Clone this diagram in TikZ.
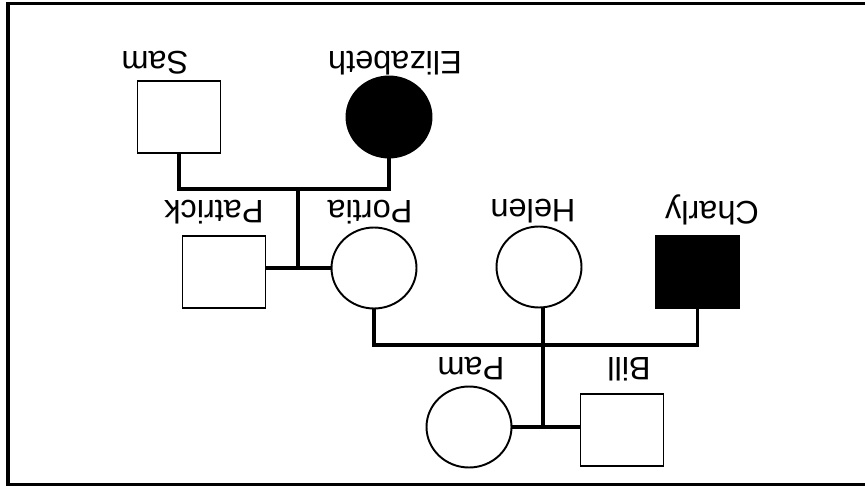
\documentclass[tikz,border=0pt]{standalone}
\usepackage{fontspec}
\setmainfont{Liberation Sans}
\usepackage{tikz}
\usetikzlibrary{shapes.geometric}
\usetikzlibrary{calc}

\newcommand{\male}[3]{
	\node[draw, line width=1.1pt, fill=#3, minimum width=1.66cm, minimum height=1.44cm, inner sep=0pt] (#1) at #2 {};
	}
\newcommand{\female}[3]{
	\node[draw, line width=1.1pt, fill=#3, ellipse, minimum width=1.7cm, minimum height=1.62cm, inner sep=0pt] (#1) at #2 {};
	}

\begin{document}
\begin{tikzpicture}[x=0.02cm, y=-0.02cm,
	namelabel/.style={rotate=180, font=\fontsize{18.5}{21}\selectfont},
	link/.style={line width=2.2pt}]

	\useasboundingbox (0,0) rectangle (865,486);
	% frame
	\draw[line width=2.2pt] (880,3.5) -- (8,3.5) -- (8,484.5) -- (880,484.5);

	% first generation
	\male{sam}{(179,117)}{white}
	\female{elizabeth}{(389,117)}{black}
	\node[namelabel] (samlabel) at (155,63) {Sam};
	\node[namelabel] (elizabethlabel) at (395,63) {Elizabeth};

	% second generation
	\male{patrick}{(224,272)}{white}
	\female{portia}{(374,268)}{white}
	\female{helen}{(539,267)}{white}
	\male{charly}{(697.5,272)}{black}
	\node[namelabel] (patricklabel) at (214,212) {Patrick};
	\node[namelabel] (portialabel) at (370,212) {Portia};
	\node[namelabel] (helenlabel) at (533,211) {Helen};
	\node[namelabel] (charlylabel) at (712,210) {Charly};

	% third generation
	\female{pam}{(469,427)}{white}
	\male{bill}{(622,430)}{white}
	\node[namelabel] (pamlabel) at (471,369) {Pam};
	\node[namelabel] (billlabel) at (629,369) {Bill};

	\coordinate (parents) at (298,189);
	\coordinate (siblings) at (543,345);

	\draw[link] (sam.south) |- (parents) -| (elizabeth.south);
	\draw[link] (parents) -- (parents |- portia.west);
	\draw[link] (patrick.east |- portia.west) -- (portia.west);
	\draw[link] (portia.south) |- (siblings) -| (charly.south);
	\draw[link] (helen.south -| siblings) -- (siblings) -- (siblings |- pam.east);
	\draw[link] (pam.east) -- (pam.east -| bill.west);

\end{tikzpicture}
\end{document}
